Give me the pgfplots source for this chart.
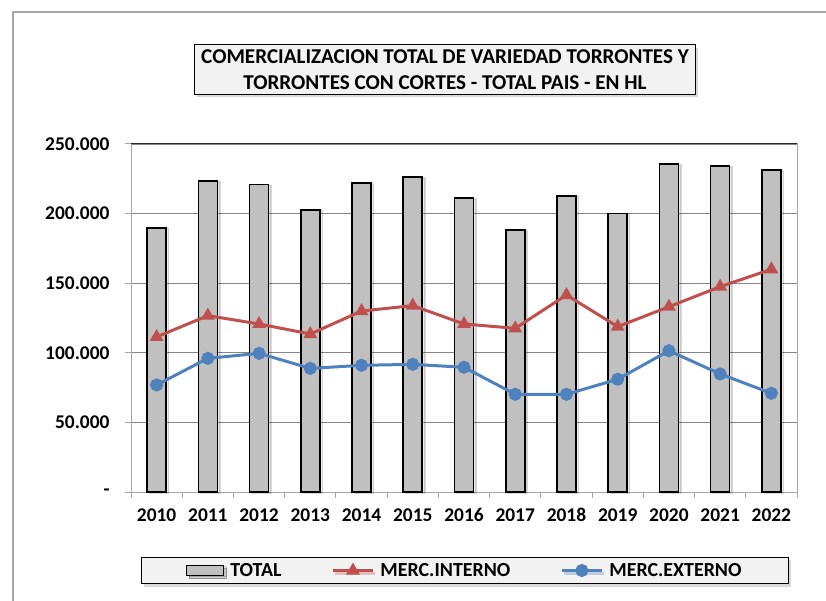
\documentclass[border=0pt]{standalone}
\usepackage{fontspec}
\setmainfont{Carlito}
\usepackage{pgfplots}
\usepackage{pgfplotstable}
\pgfplotsset{compat=1.18}
\usetikzlibrary{shadows}
\definecolor{barfill}{HTML}{C0C0C0}
\definecolor{redline}{HTML}{C0504D}
\definecolor{blueline}{HTML}{4F81BD}
\definecolor{boxfill}{HTML}{F2F2F2}
\definecolor{gridgray}{HTML}{868686}
\definecolor{framegray}{HTML}{A6A6A6}

\pgfplotsset{
  linelegend/.style={legend image code/.code={\draw[##1, line width=3bp, mark repeat=2, mark phase=2] plot coordinates {(0bp,0bp) (20bp,0bp) (40bp,0bp)};}},
  barlegend/.style={legend image code/.code={\draw[fill=barfill, draw=black, line width=0.9bp] (0bp,-5bp) rectangle (37bp,5bp);}}
}

\pgfplotstableread{
x total interno externo
0  189500 111400 76900
1  223600 126700 96000
2  221000 120700 99600
3  202400 113500 88800
4  221800 130000 91000
5  226500 133900 91700
6  211200 120700 89600
7  188400 117600 70200
8  212600 141500 70200
9  200200 118800 81000
10 235600 133100 101500
11 234200 147500 84800
12 231300 160000 70900
}\datatable

\begin{document}
\begin{tikzpicture}
\useasboundingbox (0bp,0bp) rectangle (826bp,601bp);
\draw[framegray, line width=1.2bp] (13bp,0bp) -- (13bp,589bp) -- (826bp,589bp);
\begin{axis}[
  at={(131bp,109bp)}, anchor=south west,
  scale only axis, width=666bp, height=348bp,
  xmin=-0.5, xmax=12.5, ymin=0, ymax=250000,
  xtick={0,...,12},
  xticklabels={2010,2011,2012,2013,2014,2015,2016,2017,2018,2019,2020,2021,2022},
  major x tick style={draw=none},
  minor xtick={-0.5,0.5,...,12.5},
  minor x tick style={draw=framegray, line width=1bp},
  minor tick length=6bp,
  ytick={0,50000,100000,150000,200000,250000},
  yticklabels={-,50.000,100.000,150.000,200.000,250.000},
  scaled y ticks=false,
  major y tick style={draw=framegray, line width=1bp},
  major tick length=6bp,
  tick align=outside,
  xtick pos=bottom, ytick pos=left,
  ymajorgrids,
  grid style={gridgray, line width=0.8bp},
  axis line style={framegray, line width=1bp},
  tick label style={font=\bfseries\fontsize{19.5}{22}\selectfont, text=black},
  xticklabel style={yshift=-7bp},
  yticklabel style={xshift=-12bp},
  clip=false,
  legend columns=3,
  legend style={at={(axis description cs:0.5015,-0.2256)}, anchor=center,
    draw=black, line width=1.3bp, fill=boxfill,
    font=\bfseries\fontsize{20}{22}\selectfont,
    inner xsep=45bp, inner ysep=4bp,
    drop shadow={shadow xshift=2.5bp, shadow yshift=-3bp, opacity=0.3},
    /tikz/every odd column/.append style={column sep=4bp},
    /tikz/every even column/.append style={column sep=48bp}},
]
\addplot[ybar, bar width=19bp, fill=barfill, draw=black, line width=1.6bp,
  drop shadow={shadow xshift=2.5bp, shadow yshift=-1bp, opacity=0.15},
  barlegend]
  table[x=x, y=total]{\datatable};
\addlegendentry{TOTAL}
\addplot[redline, line width=3bp, mark=triangle*, mark size=5bp, mark options={solid, fill=redline},
  linelegend]
  table[x=x, y=interno]{\datatable};
\addlegendentry{MERC.INTERNO}
\addplot[blueline, line width=3bp, mark=*, mark size=5bp, mark options={solid, fill=blueline},
  linelegend]
  table[x=x, y=externo]{\datatable};
\addlegendentry{MERC.EXTERNO}
\draw[black!85, line width=1bp] (rel axis cs:0,1) -- (rel axis cs:1,1);
\node[draw=black, line width=1.3bp, fill=boxfill, align=center,
  font=\bfseries\fontsize{21.2}{26.5}\selectfont, inner xsep=6.5bp, inner ysep=4.5bp,
  drop shadow={shadow xshift=2.5bp, shadow yshift=-3bp, opacity=0.3}]
  at (axis description cs:0.4715,1.2141)
  {COMERCIALIZACION TOTAL DE VARIEDAD TORRONTES Y\\TORRONTES CON CORTES - TOTAL PAIS - EN HL};
\end{axis}
\end{tikzpicture}
\end{document}
